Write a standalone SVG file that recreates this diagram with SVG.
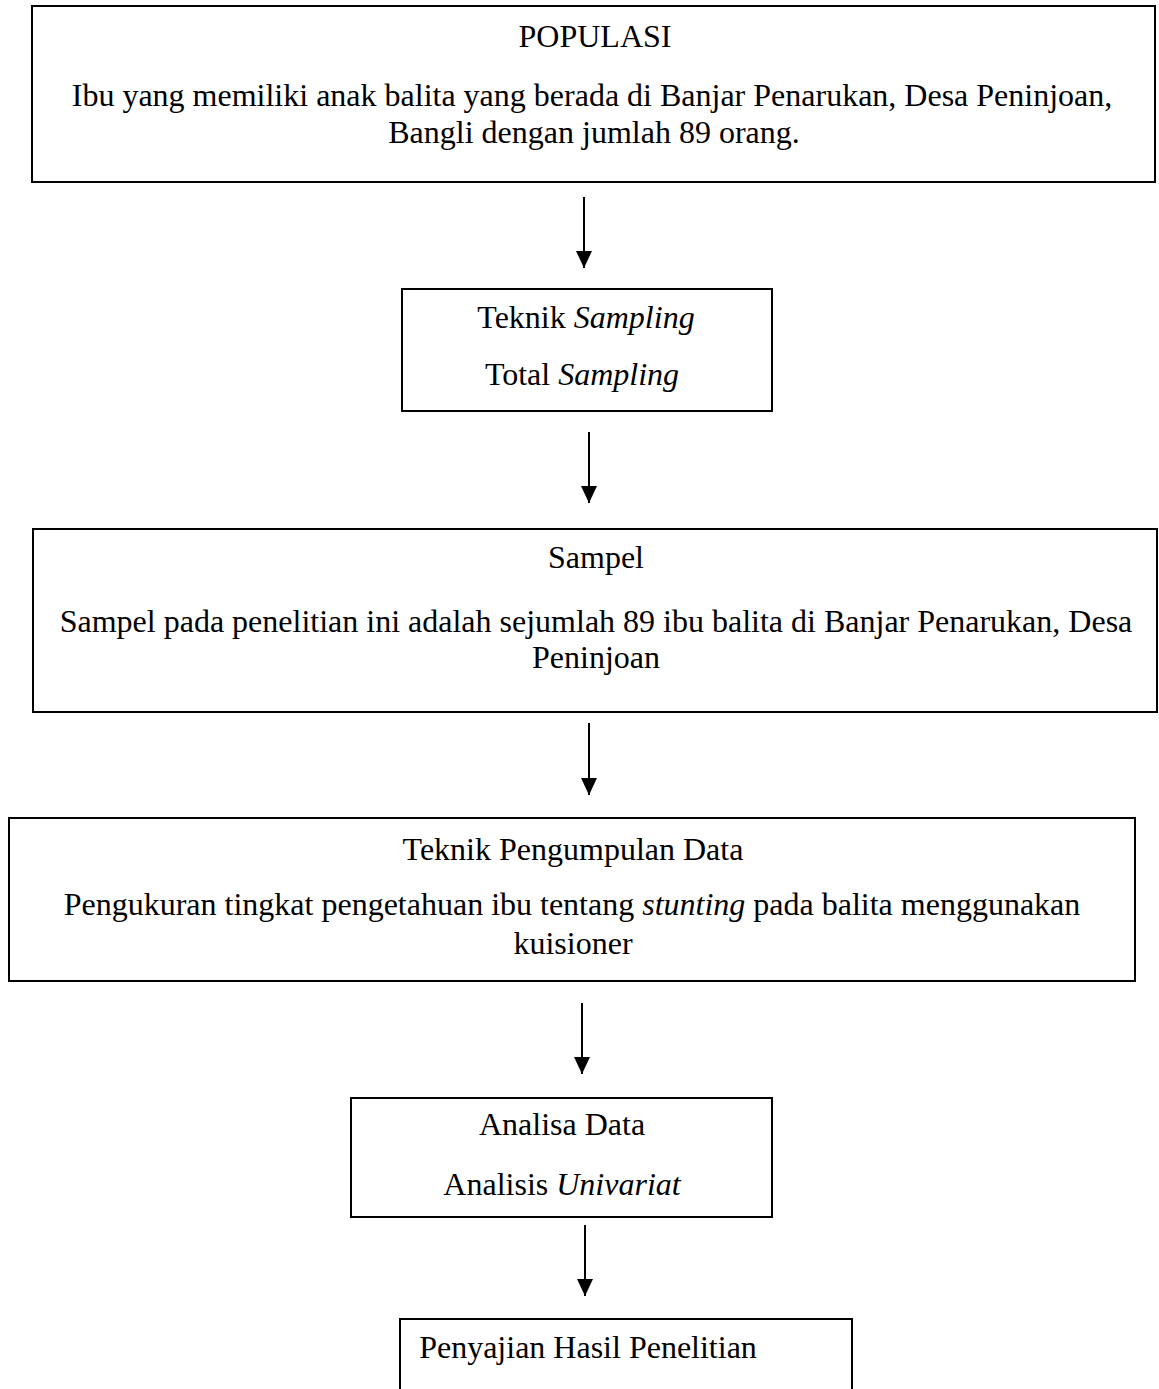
<svg xmlns="http://www.w3.org/2000/svg" width="1159" height="1389" viewBox="0 0 1159 1389">
  <style>
    .box { fill: #ffffff; stroke: #000000; stroke-width: 2; }
    .t { font-family: "Liberation Serif", "Times New Roman", serif; font-size: 32px; fill: #000000; text-anchor: middle; }
    .i { font-style: italic; }
    .conn { stroke: #000000; stroke-width: 2; fill: none; }
  </style>
  <defs>
    <marker id="arrow" markerUnits="userSpaceOnUse" markerWidth="17" markerHeight="18" refX="17" refY="8" orient="auto">
      <path d="M0,0 L17,8 L0,16 Z" fill="#000000"/>
    </marker>
  </defs>
  <rect width="1159" height="1389" fill="#ffffff"/>

  <g id="populasi">
    <rect class="box" x="32" y="6" width="1123" height="176"/>
    <text class="t" x="595" y="47">POPULASI</text>
    <text class="t" x="592" y="106">Ibu yang memiliki anak balita yang berada di Banjar Penarukan, Desa Peninjoan,</text>
    <text class="t" x="594" y="143">Bangli dengan jumlah 89 orang.</text>
  </g>

  <g id="teknik-sampling">
    <rect class="box" x="402" y="289" width="370" height="122"/>
    <text class="t" x="586" y="328">Teknik <tspan class="i">Sampling</tspan></text>
    <text class="t" x="582" y="385">Total <tspan class="i">Sampling</tspan></text>
  </g>

  <g id="sampel">
    <rect class="box" x="33" y="529" width="1124" height="183"/>
    <text class="t" x="596" y="568">Sampel</text>
    <text class="t" x="596" y="632">Sampel pada penelitian ini adalah sejumlah 89 ibu balita di Banjar Penarukan, Desa</text>
    <text class="t" x="596" y="668">Peninjoan</text>
  </g>

  <g id="pengumpulan-data">
    <rect class="box" x="9" y="818" width="1126" height="163"/>
    <text class="t" x="573" y="860">Teknik Pengumpulan Data</text>
    <text class="t" x="572" y="915">Pengukuran tingkat pengetahuan ibu tentang <tspan class="i">stunting</tspan> pada balita menggunakan</text>
    <text class="t" x="573" y="954">kuisioner</text>
  </g>

  <g id="analisa-data">
    <rect class="box" x="351" y="1098" width="421" height="119"/>
    <text class="t" x="562" y="1135">Analisa Data</text>
    <text class="t" x="562" y="1195">Analisis <tspan class="i">Univariat</tspan></text>
  </g>

  <g id="penyajian">
    <rect class="box" x="400" y="1319" width="452" height="100"/>
    <text class="t" x="588" y="1358">Penyajian Hasil Penelitian</text>
  </g>

  <g id="connectors">
    <line class="conn" x1="584" y1="197" x2="584" y2="268" marker-end="url(#arrow)"/>
    <line class="conn" x1="589" y1="432" x2="589" y2="503" marker-end="url(#arrow)"/>
    <line class="conn" x1="589" y1="723" x2="589" y2="795" marker-end="url(#arrow)"/>
    <line class="conn" x1="582" y1="1003" x2="582" y2="1074" marker-end="url(#arrow)"/>
    <line class="conn" x1="585" y1="1225" x2="585" y2="1296" marker-end="url(#arrow)"/>
  </g>
</svg>
